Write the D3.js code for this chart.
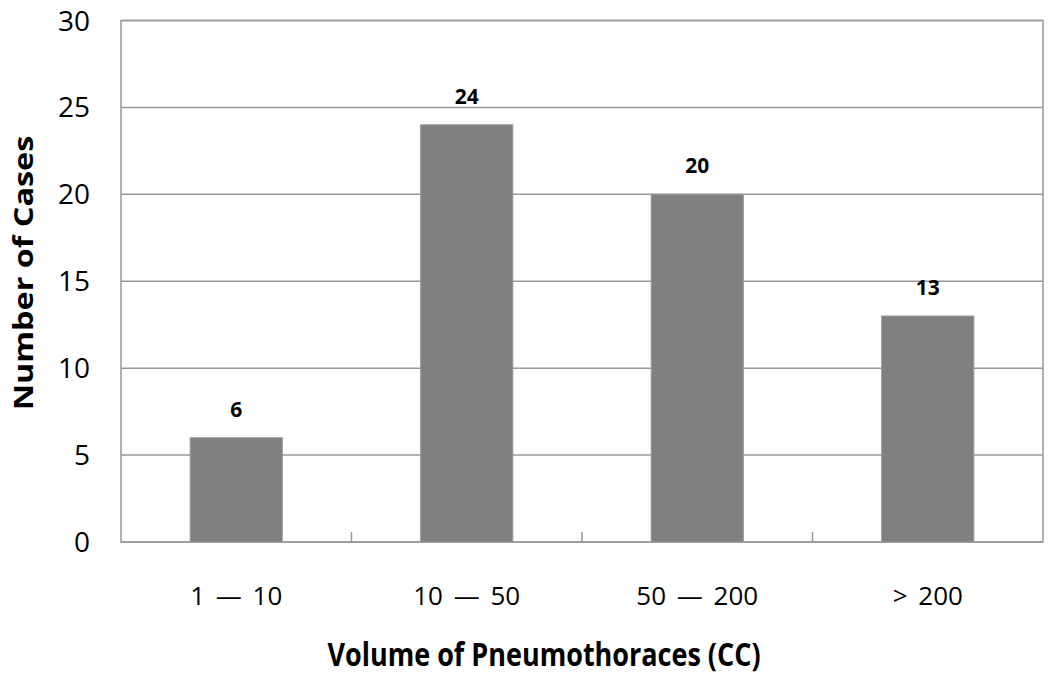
<!DOCTYPE html>
<html>
<head>
<meta charset="utf-8">
<script src="https://cdn.jsdelivr.net/npm/d3@7"></script>
<style>
  body { margin: 0; background: #fff; }
  svg { font-family: "Open Sans", sans-serif; }
</style>
</head>
<body>
<script>
// categories and counts
var categories = ["1 \u2014 10", "10 \u2014 50", "50 \u2014 200", "> 200"];
var cases = [6, 24, 20, 13];
var yTicks = [0, 5, 10, 15, 20, 25, 30];

var w = 1050, h = 680;
var margin = {left: 121, right: 7, top: 20.5, bottom: 138};

var svg = d3.select("body").append("svg")
    .attr("width", w)
    .attr("height", h);

var x = d3.scaleBand()
    .domain(categories)
    .range([margin.left, w - margin.right])
    .paddingInner(0.6)
    .paddingOuter(0.3);

var y = d3.scaleLinear()
    .domain([0, 30])
    .range([h - margin.bottom, margin.top]);

var data = categories.map(function(c, i){ return {cat: c, val: cases[i]}; });

// horizontal gridlines
svg.selectAll(".grid")
    .data(yTicks)
    .enter()
    .append("line")
    .attr("class", "grid")
    .attr("x1", margin.left)
    .attr("x2", w - margin.right)
    .attr("y1", function(d){ return y(d); })
    .attr("y2", function(d){ return y(d); })
    .style("stroke", "#989898")
    .style("stroke-width", 1.5);

// plot frame
svg.append("rect")
    .attr("x", margin.left)
    .attr("y", y(30))
    .attr("width", w - margin.right - margin.left)
    .attr("height", y(0) - y(30))
    .style("fill", "none")
    .style("stroke", "#989898")
    .style("stroke-width", 1.5);

// bars
svg.selectAll(".bar")
    .data(data)
    .enter()
    .append("rect")
    .attr("class", "bar")
    .attr("x", function(d){ return x(d.cat); })
    .attr("y", function(d){ return y(d.val); })
    .attr("width", x.bandwidth())
    .attr("height", function(d){ return y(0) - y(d.val); })
    .style("fill", "#808080")
    .style("stroke", "#9a9a9a")
    .style("stroke-width", 1);

// small ticks between categories
var step = x.step();
var bounds = categories.slice(1).map(function(c){
    return x(c) - step * x.paddingInner() / 2;
});
svg.selectAll(".xtick")
    .data(bounds)
    .enter()
    .append("line")
    .attr("class", "xtick")
    .attr("x1", function(d){ return d; })
    .attr("x2", function(d){ return d; })
    .attr("y1", y(0))
    .attr("y2", y(0) - 10)
    .style("stroke", "#989898")
    .style("stroke-width", 1.5);

// y tick labels
svg.selectAll(".ylabel")
    .data(yTicks)
    .enter()
    .append("text")
    .attr("class", "ylabel")
    .attr("x", margin.left - 31)
    .attr("y", function(d){ return y(d); })
    .attr("dy", "0.36em")
    .attr("text-anchor", "end")
    .style("font-size", "28px")
    .text(function(d){ return d; });

// category labels
svg.selectAll(".xlabel")
    .data(data)
    .enter()
    .append("text")
    .attr("class", "xlabel")
    .attr("x", function(d){ return x(d.cat) + x.bandwidth() / 2; })
    .attr("y", 605)
    .attr("text-anchor", "middle")
    .style("font-size", "26px")
    .style("word-spacing", "4px")
    .text(function(d){ return d.cat; });

// value labels
svg.selectAll(".vlabel")
    .data(data)
    .enter()
    .append("text")
    .attr("class", "vlabel")
    .attr("x", function(d){ return x(d.cat) + x.bandwidth() / 2; })
    .attr("y", function(d){ return y(d.val) - 21; })
    .attr("text-anchor", "middle")
    .style("font-size", "21px")
    .style("font-weight", "bold")
    .text(function(d){ return d.val; });

// axis titles (the original text looks stretched vertically)
svg.append("text")
    .attr("transform", "translate(" + ((margin.left + w - margin.right) / 2 - 38) + ", 666) scale(1, 1.2)")
    .attr("text-anchor", "middle")
    .style("font-size", "27px")
    .style("font-weight", "bold")
    .text("Volume of Pneumothoraces (CC)");

svg.append("text")
    .attr("transform", "translate(33, 273) scale(1, 1.2) rotate(-90)")
    .attr("text-anchor", "middle")
    .style("font-size", "27px")
    .style("font-weight", "bold")
    .text("Number of Cases");
</script>
</body>
</html>
